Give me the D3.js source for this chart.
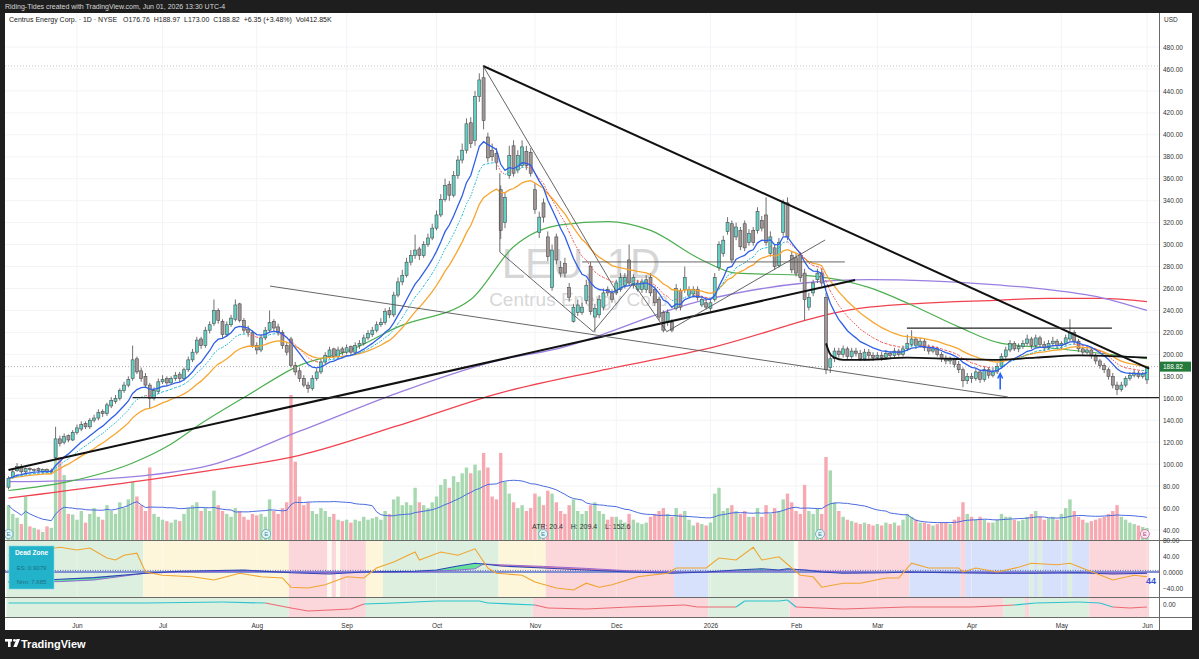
<!DOCTYPE html>
<html><head><meta charset="utf-8">
<script src="https://cdn.jsdelivr.net/npm/d3@7"></script>
<style>
html,body{margin:0;padding:0;background:#1e1e1e;}
svg{display:block;font-family:"Liberation Sans","DejaVu Sans",sans-serif;}
</style></head><body>
<svg id="c" width="1199" height="659"></svg>
<script>
// ---------------- DATA ----------------
const open=[79,88,94,98,93,96,95,96,93,95,93,106,123,120,126,122,129,132,137,134,140,142,148,146,153,157,160,167,172,178,196,185,180,172,160,166,175,178,174,178,182,178,186,195,202,214,208,222,228,240,230,218,227,232,246,231,223,220,208,204,215,222,230,225,220,208,214,190,185,178,172,169,178,184,193,198,205,198,205,202,207,202,208,210,215,218,222,227,229,240,236,254,266,272,284,290,296,290,300,306,315,327,341,355,345,363,377,386,411,395,435,452,398,386,383,350,320,363,390,368,372,385,384,350,311,338,307,261,307,279,283,261,230,238,238,249,280,234,236,243,259,256,256,259,263,286,263,259,259,259,270,259,250,238,229,229,242,258,259,254,255,259,245,247,242,250,279,292,312,319,307,313,319,302,313,313,322,327,292,297,281,311,338,290,288,290,274,243,256,268,274,252,188,196,203,200,205,198,203,201,196,202,199,197,199,197,201,199,203,200,205,209,214,208,212,206,203,205,200,196,194,195,191,186,176,180,178,184,177,186,181,184,189,198,204,210,205,207,210,214,208,215,209,206,210,212,208,210,214,220,212,205,202,204,199,194,190,186,180,172,168,172,178,181,183,180,176.76];
const high=[89,95,101,100,97,97,96,97,96,96,96,134,126,128,127,131,136,139,139,142,145,150,150,156,161,163,169,175,180,208,198,188,183,174,170,178,181,180,180,184,184,188,198,205,216,216,225,230,250,242,232,230,236,250,247,233,226,222,211,218,225,240,232,228,222,211,216,193,188,181,175,181,187,196,202,207,206,207,207,209,208,211,213,218,222,225,230,233,242,243,257,270,277,288,295,309,298,303,310,319,331,346,360,358,367,381,392,415,416,440,456,463,402,392,388,354,348,390,395,386,395,390,388,356,330,342,312,300,310,285,288,265,246,250,247,268,284,246,254,260,262,259,268,274,274,300,273,268,269,272,274,262,252,240,241,232,264,260,280,262,262,262,253,250,250,274,303,308,325,322,320,316,322,314,316,334,326,343,312,300,306,341,343,294,292,293,278,256,268,278,278,256,199,206,206,208,207,206,206,204,205,205,202,202,202,204,203,206,205,208,218,222,216,215,214,209,208,207,202,199,198,197,194,188,183,183,187,186,189,188,187,192,201,207,213,212,210,213,218,216,218,217,212,213,216,214,212,218,232,222,214,207,207,206,201,196,192,188,183,175,175,180,184,186,185,184,188.97];
const low=[77,87,93,91,91,93,93,92,91,92,91,104,116,118,120,121,127,130,132,132,138,140,143,144,151,155,158,165,170,176,182,175,170,151,158,164,173,171,172,176,175,176,184,193,200,205,206,219,226,228,215,216,225,230,229,219,216,206,200,202,213,220,221,217,205,199,188,181,175,170,165,167,176,182,191,196,196,196,199,200,199,200,205,208,213,216,220,225,227,233,234,252,263,270,281,287,286,288,298,304,313,325,339,340,343,360,374,383,388,390,430,405,375,376,368,305,315,360,362,365,370,368,362,328,306,320,285,258,282,270,270,248,229,235,236,246,236,220,233,240,253,247,254,257,260,262,260,257,256,256,253,244,231,220,226,220,240,240,256,252,252,249,243,241,239,248,276,289,309,283,304,295,294,299,299,310,312,299,289,277,279,308,304,274,271,266,231,240,253,265,262,182,183,193,197,197,195,196,198,194,194,196,194,195,194,195,196,197,198,198,203,207,205,206,203,200,201,198,193,191,191,188,183,170,173,174,176,174,175,178,179,182,187,196,202,203,202,205,208,205,206,206,203,204,207,205,205,208,212,209,202,199,200,196,191,187,183,177,169,163,166,170,176,179,178,178,173];
const close=[87,93,98,93,96,95,95,94,95,93,94,123,119,125,122,129,133,136,134,140,142,147,146,154,158,160,167,172,177,195,184,178,172,160,167,175,177,174,178,181,178,186,195,202,213,208,222,227,240,231,218,227,233,245,231,222,220,208,204,215,222,229,224,220,208,202,190,184,178,172,169,178,184,193,199,204,198,204,202,206,202,208,210,215,219,222,227,229,239,236,254,266,272,284,290,295,290,300,306,315,327,341,354,345,363,377,386,410,392,435,450,413,379,380,375,313,343,381,365,381,389,372,365,332,325,325,289,295,286,274,274,252,243,245,243,263,239,242,250,256,256,250,265,270,270,265,270,265,266,268,256,247,234,222,238,222,260,243,270,259,259,252,250,243,247,270,300,304,320,286,316,298,297,310,302,330,315,302,307,280,302,338,307,277,274,270,250,252,265,274,265,186,196,203,200,205,198,203,201,196,202,199,197,199,197,201,199,203,200,205,210,214,208,212,206,203,205,200,196,194,195,191,186,176,180,178,184,177,186,181,184,189,198,204,210,205,207,210,214,208,215,209,206,210,212,208,210,215,220,212,205,202,204,199,194,190,186,180,172,168,172,178,181,183,180,182.47,188.82];
const volume=[1200,900,770,550,1500,470,420,360,280,470,420,3350,2860,2240,900,880,700,1000,600,900,1100,800,700,1200,1000,900,1300,1100,1400,2000,1500,1200,1000,2500,900,800,700,650,600,700,650,900,1100,1200,1300,1000,1100,1000,1700,1200,1000,900,800,1100,1000,800,700,900,850,900,800,1400,1000,900,1100,1300,5000,2700,1500,1200,1300,1000,900,1100,1000,800,900,700,650,700,600,700,650,800,700,750,800,700,1000,900,1400,1500,1200,1300,1200,1800,1300,1200,1100,1300,1500,1900,2100,1800,2200,2000,2300,2500,2300,2600,2400,3000,2500,1500,1400,3000,2000,1600,1300,1100,1200,1000,1100,1600,1500,1200,1700,1600,1300,1000,900,1200,1400,1000,900,1000,1200,1300,1000,900,700,800,800,700,600,900,700,600,550,600,800,900,1000,1100,900,800,1100,900,1000,700,500,600,550,500,600,1600,1800,1000,1100,1200,1000,900,1000,800,800,1100,800,1200,900,1100,1000,1400,1600,1300,1000,900,1900,1000,900,1100,900,2860,2400,1300,1000,800,700,650,600,550,600,550,500,550,500,600,550,600,500,700,900,800,700,600,600,550,500,550,600,600,550,700,800,1300,900,800,700,800,700,600,600,700,900,800,800,700,650,700,800,900,1000,800,700,750,800,700,900,1100,1400,1000,800,700,600,650,700,750,800,900,1000,1200,800,700,600,550,500,450,413];

const priceTicks=[40,60,80,100,120,140,160,180,200,220,240,260,280,300,320,340,360,380,400,420,440,460,480];
const monthIdx=[16,36,58,79,100,123,142,164,184,203,225,246,266];
const monthLabels=["Jun","Jul","Aug","Sep","Oct","Nov","Dec","2026","Feb","Mar","Apr","May","Jun"];

// slow moving averages (bar index, price)
const greenIdx=[0,14,29,37,45,56,68,80,91,108,118,129,140,150,162,170,186,201,211,222,232,243,255,266];
const greenVal=[76,84,101,116,137,163,190,204,225,250,298,318,321,313,286,274,272,261,245,225,210,206,201,196];
const purpleIdx=[0,14,45,68,91,115,127,162,186,201,215,232,243,255,266];
const purpleVal=[84,85,97,130,165,195,204,249,265,268,267,263,259,252,240];
const redIdx=[0,45,68,91,115,138,162,201,232,243,255,266];
const redVal=[69,93,108,135,165,185,204,243,249.5,251,251,248];
const vwapIdx=[191,192,193,195,200,210,220,230,240,250,260,266];
const vwapVal=[210,200,197,195,195,197,196,195,197,199,198,197];

// Dead Zone pane
const p1Idx=[0,12,20,32,40,55,66,75,83,90,95,100,105,109,111,115,125,135,145,155,163,170,176,180,182,186,190,195,205,210,220,230,240,250,258,266];
const p1Blue=[-25,-18,-14,-3,2,5,-2,-5,0,1,2,5,15,22,20,15,10,5,0,-3,0,5,8,5,8,5,0,-3,-2,0,-2,-3,-3,-2,-5,-3];
const p1Sig=[-25,-24,-20,-3,0,2,0,-1,0,0,0,2,5,8,20,18,14,9,3,0,-1,2,3,3,5,5,2,0,-1,-1,-1,-2,-2,-2,-2,-2];
const orIdx=[0,12,16,19,23,25,27,30,32,36,43,48,54,59,64,66,70,74,79,83,86,90,95,96,101,105,109,112,114,120,123,128,132,135,138,141,147,154,156,163,166,170,174,176,180,183,185,188,190,195,199,205,208,211,215,222,223,226,231,236,239,245,248,252,254,258,263,266];
const orVal=[42,62,55,60,35,30,42,47,0,-8,-12,-20,-3,-12,-15,-38,-40,-32,-12,-15,10,25,50,30,50,42,58,10,-3,-8,-25,-40,-45,-28,-38,-32,-12,-3,10,10,35,30,62,30,38,10,-8,-12,-38,-28,-28,-15,-15,22,10,10,0,10,0,12,22,18,22,5,-3,-20,-8,-12];
const zone1Start=[0,32,66,75,76,77,78,84,88,115,126,156,164,184,185,211,223,224,239,240,241,242,248,249,253];
const zone1End=[31,65,74,75,76,77,83,87,114,125,155,163,183,184,210,222,223,238,239,240,241,247,248,252,266];
const zone1Type=["g","y","p","w","p","w","p","y","g","y","p","b","g","w","p","b","p","b","g","b","g","b","g","b","p"];
const zone2Start=[0,66,84,123,164,183,233,238,239,253];
const zone2End=[65,83,122,163,182,232,237,238,252,266];
const zone2Type=["g","p","g","p","g","p","g","p","g","p"];
const p2Idx=[0,32,50,60,66,70,80,83,90,100,110,112,123,126,135,145,158,161,170,172,180,182,184,195,210,225,235,240,250,255,258,262,266];
const p2Val=[1,1,1.5,1,-1.5,-3,-2,0.5,1,2,2,1,0,-1.5,-2,-1,0,-1,-1,2,2,2.5,-1,-2,-1,-1,0,1,1.5,1,-1,-1.5,-1];

// drawings: [index, price] pairs
const trendUp=[[0,94.7],[197.8,267.8]];
const trendDown=[[110.9,462.7],[266.5,187]];
const supportLine=[[29,160.5],[271,160.5]];
const wedgeLow=[[61.1,262.2],[233.5,161.2]];
const peakLeg=[[110.9,462.7],[142.2,256]];
const zigzag=[[114.8,365],[114.8,293.2],[136.6,220.7],[146,264.8],[153.8,220.7],[190.8,304.2]];
const rangeTop=[[134,284.2],[195.4,284.2]];
const rangeMay=[[209.9,223.9],[257.8,223.9]];
const earnIdx=[0,60.2,124.9,189.6,265.5];

// ---------------- LAYOUT ----------------
const svg=d3.select("#c");
const L=5,R=1159,AX=1192,T=13,MB=540,P1T=540,P1B=597,P2B=617,XB=630;
const x=d3.scaleLinear().domain([0,266]).range([8.5,1147]);
const y=d3.scaleLinear().domain([40,480]).range([530,47]);
const vy=d3.scaleLinear().domain([0,5000]).range([MB,395]);
const p1=d3.scaleLinear().domain([-40,40]).range([588,556]);
const p2=d3.scaleLinear().domain([-3,3]).range([611,599]);
const N=close.length;

svg.append("rect").attr("width",1199).attr("height",659).attr("fill","#1e1e1e");
svg.append("rect").attr("x",L).attr("y",T).attr("width",AX-L).attr("height",XB-T).attr("fill","#ffffff");
svg.append("text").attr("x",5).attr("y",9).attr("fill","#d6d6d6").attr("font-size",7).text("Riding-Tides created with TradingView.com, Jun 01, 2026 13:30 UTC-4");

const defs=svg.append("defs");
defs.append("clipPath").attr("id","mainClip").append("rect").attr("x",L).attr("y",T).attr("width",R-L).attr("height",MB-T);
defs.append("clipPath").attr("id","p1Clip").append("rect").attr("x",L).attr("y",P1T).attr("width",R-L).attr("height",P1B-P1T);
defs.append("clipPath").attr("id","p2Clip").append("rect").attr("x",L).attr("y",P1B).attr("width",R-L).attr("height",P2B-P1B);

const main=svg.append("g").attr("clip-path","url(#mainClip)");
// grid
main.selectAll(".hg").data(priceTicks).join("line").attr("x1",L).attr("x2",R).attr("y1",d=>y(d)).attr("y2",d=>y(d)).attr("stroke","#f3f4f7").attr("stroke-width",1);
main.selectAll(".vg").data(monthIdx).join("line").attr("x1",d=>x(d)).attr("x2",d=>x(d)).attr("y1",T).attr("y2",MB).attr("stroke","#f3f4f7").attr("stroke-width",1);

// watermark
main.append("text").attr("x",581).attr("y",278).attr("text-anchor","middle").attr("font-size",42).attr("fill","#c9c9c9").attr("fill-opacity",0.75).text("LEU, 1D");
main.append("text").attr("x",581).attr("y",306).attr("text-anchor","middle").attr("font-size",19).attr("fill","#c9c9c9").attr("fill-opacity",0.75).text("Centrus Energy Corp.");

// volume
main.selectAll(".vb").data(d3.range(N)).join("rect")
 .attr("x",i=>x(i)-1.7).attr("width",3.4)
 .attr("y",i=>vy(volume[i])).attr("height",i=>MB-vy(volume[i]))
 .attr("fill",i=>close[i]>=open[i]?"#a8d8b0":"#f6a9b1");
const vma=d3.range(N).map(i=>{const s=Math.max(0,i-19);return d3.mean(volume.slice(s,i+1));});
main.append("path").attr("d",d3.line().x((d,i)=>x(i)).y(d=>vy(d))(vma)).attr("fill","none").attr("stroke","#4a6be0").attr("stroke-width",1);

// dotted reference lines
main.append("line").attr("x1",L).attr("x2",R).attr("y1",y(462.7)).attr("y2",y(462.7)).attr("stroke","#b8b8b8").attr("stroke-dasharray","1,2").attr("stroke-width",0.8);
main.append("line").attr("x1",L).attr("x2",R).attr("y1",y(188.82)).attr("y2",y(188.82)).attr("stroke","#999").attr("stroke-dasharray","1,2").attr("stroke-width",0.8);

const sparse=(idx,val)=>idx.map((d,k)=>[d,val[k]]);
const lineP=d3.line().x(d=>x(d[0])).y(d=>y(d[1])).curve(d3.curveMonotoneX);
main.append("path").attr("d",lineP(sparse(redIdx,redVal))).attr("fill","none").attr("stroke","#f0424f").attr("stroke-width",1.3);
main.append("path").attr("d",lineP(sparse(purpleIdx,purpleVal))).attr("fill","none").attr("stroke","#9b7fe0").attr("stroke-width",1.3);
main.append("path").attr("d",lineP(sparse(greenIdx,greenVal))).attr("fill","none").attr("stroke","#4caf50").attr("stroke-width",1.2);

// candles
const cg=main.append("g");
cg.selectAll(".wk").data(d3.range(N)).join("line")
 .attr("x1",i=>x(i)).attr("x2",i=>x(i)).attr("y1",i=>y(high[i])).attr("y2",i=>y(low[i]))
 .attr("stroke","#4d4d4d").attr("stroke-width",0.8);
cg.selectAll(".bd").data(d3.range(N)).join("rect")
 .attr("x",i=>x(i)-1.5).attr("width",3)
 .attr("y",i=>y(Math.max(open[i],close[i])))
 .attr("height",i=>Math.max(0.8,Math.abs(y(open[i])-y(close[i]))))
 .attr("fill",i=>close[i]>=open[i]?"#62d0c4":"#a39696")
 .attr("stroke","#4d4d4d").attr("stroke-width",0.6);

// computed short averages
function ema(arr,n){const k=2/(n+1);const out=[];arr.forEach((v,i)=>out.push(i===0?v:v*k+out[i-1]*(1-k)));return out;}
const ema10=ema(close,10), ema15=ema(close,15), ema21=ema(close,24);
const lineI=d3.line().x((d,i)=>x(i)).y(d=>y(d));
main.append("path").attr("d",lineI(ema21)).attr("fill","none").attr("stroke","#f7a530").attr("stroke-width",1.3);
for(let i=1;i<N;i++){
  main.append("line").attr("x1",x(i-1)).attr("x2",x(i)).attr("y1",y(ema15[i-1])).attr("y2",y(ema15[i]))
   .attr("stroke",ema15[i]>=ema15[i-1]?"#22b8cf":"#ef5350").attr("stroke-width",1).attr("stroke-dasharray","1.5,1.5");
}
main.append("path").attr("d",lineI(ema10)).attr("fill","none").attr("stroke","#2f5fe8").attr("stroke-width",1.3);
main.append("path").attr("d",lineP(sparse(vwapIdx,vwapVal))).attr("fill","none").attr("stroke","#111").attr("stroke-width",1.8);

// drawings
const lineD=d3.line().x(d=>x(d[0])).y(d=>y(d[1]));
main.append("path").attr("d",lineD(trendUp)).attr("stroke","#111").attr("stroke-width",2).attr("fill","none");
main.append("path").attr("d",lineD(trendDown)).attr("stroke","#111").attr("stroke-width",2).attr("fill","none");
main.append("path").attr("d",lineD(supportLine)).attr("stroke","#222").attr("stroke-width",1.2).attr("fill","none");
[wedgeLow,peakLeg,zigzag,rangeTop].forEach(p=>main.append("path").attr("d",lineD(p)).attr("stroke","#555").attr("stroke-width",0.9).attr("fill","none"));
main.append("path").attr("d",lineD(rangeMay)).attr("stroke","#222").attr("stroke-width",1.1).attr("fill","none");
// arrow
const ax0=x(231.7);
main.append("path").attr("d",`M${ax0},${y(168)} L${ax0},${y(181)} M${ax0-2.5},${y(178)} L${ax0},${y(182.5)} L${ax0+2.5},${y(178)}`).attr("stroke","#2962ff").attr("stroke-width",1.6).attr("fill","none");
// earnings icons
earnIdx.forEach((d,k)=>{
  const g=main.append("g").attr("transform",`translate(${x(d)},534)`);
  const last=k===earnIdx.length-1;
  g.append("circle").attr("r",4.5).attr("fill",last?"#fde7ef":"#e4f4f6").attr("stroke",last?"#c86a9a":"#5aa8b8").attr("stroke-width",0.8);
  g.append("text").attr("y",2.3).attr("text-anchor","middle").attr("font-size",6).attr("fill",last?"#b05080":"#3a8898").text("E");
});
main.append("text").attr("x",532).attr("y",529).attr("font-size",7).attr("fill","#333").attr("xml:space","preserve").text("ATR: 20.4    H: 209.4    L: 152.6");

// header
svg.append("text").attr("x",9).attr("y",22).attr("font-size",7).attr("fill","#222").attr("xml:space","preserve")
 .text("Centrus Energy Corp. · 1D · NYSE   O176.76  H188.97  L173.00  C188.82  +6.35 (+3.48%)  Vol412.85K");

// ---------------- PANE 1 ----------------
const pane1=svg.append("g").attr("clip-path","url(#p1Clip)");
const zc={g:"#ddefdf",y:"#fdf6da",p:"#fbd6da",b:"#d7e1fb",w:"#fefcf0"};
zone1Start.forEach((s,k)=>pane1.append("rect").attr("x",x(s)-2.14).attr("width",x(zone1End[k])-x(s)+4.28).attr("y",P1T).attr("height",P1B-P1T).attr("fill",zc[zone1Type[k]]));
pane1.selectAll(".vg").data(monthIdx).join("line").attr("x1",d=>x(d)).attr("x2",d=>x(d)).attr("y1",P1T).attr("y2",P1B).attr("stroke","#ffffff").attr("stroke-opacity",0.35);
for(let k=1;k<p1Idx.length;k++){
  const a=[p1Idx[k-1],p1Blue[k-1],p1Sig[k-1]], b=[p1Idx[k],p1Blue[k],p1Sig[k]];
  const diff=(a[1]-a[2])+(b[1]-b[2]);
  if(Math.abs(diff)<0.01) continue;
  pane1.append("path").attr("d",`M${x(a[0])},${p1(a[1])} L${x(b[0])},${p1(b[1])} L${x(b[0])},${p1(b[2])} L${x(a[0])},${p1(a[2])} Z`)
   .attr("fill",diff>0?"#3ddc84":"#ef6a7a").attr("fill-opacity",0.75);
}
pane1.append("line").attr("x1",L).attr("x2",R).attr("y1",p1(0)).attr("y2",p1(0)).attr("stroke","#7f8fd0").attr("stroke-width",2.2);
pane1.append("line").attr("x1",L).attr("x2",R).attr("y1",p1(4)).attr("y2",p1(4)).attr("stroke","#3f51b5").attr("stroke-width",0.8).attr("stroke-dasharray","1,1.5");
const l1=d3.line().x(d=>x(d[0])).y(d=>p1(d[1]));
pane1.append("path").attr("d",l1(sparse(p1Idx,p1Sig))).attr("fill","none").attr("stroke","#8e5fd6").attr("stroke-width",0.9);
pane1.append("path").attr("d",l1(sparse(p1Idx,p1Blue))).attr("fill","none").attr("stroke","#2d46b9").attr("stroke-width",1.1);
pane1.append("path").attr("d",l1(sparse(orIdx,orVal))).attr("fill","none").attr("stroke","#f0a531").attr("stroke-width",1.1);
// label box
const lb=svg.append("g");
lb.append("rect").attr("x",9).attr("y",546).attr("width",45).attr("height",43).attr("fill","#22b2c9").attr("stroke","#7fdbe8").attr("stroke-width",0.6);
lb.append("text").attr("x",31.5).attr("y",555).attr("text-anchor","middle").attr("font-size",6.5).attr("font-weight","bold").attr("fill","#ffffff").text("Dead Zone");
lb.append("text").attr("x",31.5).attr("y",570).attr("text-anchor","middle").attr("font-size",6).attr("fill","#1f6f86").text("ES: 0.9079");
lb.append("text").attr("x",31.5).attr("y",584).attr("text-anchor","middle").attr("font-size",6).attr("fill","#1f6f86").text("Nrm: 7.685");
svg.append("text").attr("x",1146).attr("y",584).attr("font-size",9).attr("font-weight","bold").attr("fill","#3550d8").text("44");

// ---------------- PANE 2 ----------------
const pane2=svg.append("g").attr("clip-path","url(#p2Clip)");
zone2Start.forEach((s,k)=>pane2.append("rect").attr("x",x(s)-2.14).attr("width",x(zone2End[k])-x(s)+4.28).attr("y",P1B).attr("height",P2B-P1B).attr("fill",zc[zone2Type[k]]));
for(let k=1;k<p2Idx.length;k++){
  const m=(p2Val[k-1]+p2Val[k])/2;
  pane2.append("line").attr("x1",x(p2Idx[k-1])).attr("x2",x(p2Idx[k])).attr("y1",p2(p2Val[k-1])).attr("y2",p2(p2Val[k]))
   .attr("stroke",m>=0?"#2cc3cf":"#ec6a72").attr("stroke-width",1.2);
}

// ---------------- AXES & FRAME ----------------
const sep=svg.append("g");
[P1T,P1B,P2B].forEach(v=>sep.append("line").attr("x1",L).attr("x2",AX).attr("y1",v+0.5).attr("y2",v+0.5).attr("stroke","#6a6a6a").attr("stroke-width",1));
sep.append("line").attr("x1",R+0.5).attr("x2",R+0.5).attr("y1",T).attr("y2",XB).attr("stroke","#6a6a6a");

const yAxis=d3.axisRight(y).tickValues(priceTicks).tickFormat(d3.format(".2f")).tickSize(0).tickPadding(4);
const ga=svg.append("g").attr("transform",`translate(${R},0)`).call(yAxis);
ga.select(".domain").remove();
ga.selectAll("text").attr("font-size",6.5).attr("fill","#333").attr("font-family","Liberation Sans, DejaVu Sans, sans-serif");
svg.append("text").attr("x",1164).attr("y",22).attr("font-size",6.5).attr("fill","#333").text("USD");

const p1Axis=d3.axisRight(p1).tickValues([80,40,0,-40]).tickFormat(d=>d===0?"0.0000":d3.format(".2f")(d)).tickSize(0).tickPadding(4);
const gp1=svg.append("g").attr("transform",`translate(${R},0)`).call(p1Axis);
gp1.select(".domain").remove();
gp1.selectAll("text").attr("font-size",6.5).attr("fill","#333").attr("font-family","Liberation Sans, DejaVu Sans, sans-serif");
const p2Axis=d3.axisRight(p2).tickValues([0.2]).tickFormat(()=> "0.00").tickSize(0).tickPadding(4);
const gp2=svg.append("g").attr("transform",`translate(${R},0)`).call(p2Axis);
gp2.select(".domain").remove();
gp2.selectAll("text").attr("font-size",6.5).attr("fill","#333").attr("font-family","Liberation Sans, DejaVu Sans, sans-serif");

// last price label
svg.append("rect").attr("x",R+1).attr("y",y(188.82)-5).attr("width",31).attr("height",10).attr("fill","#237a3a");
svg.append("text").attr("x",R+4).attr("y",y(188.82)+2.5).attr("font-size",6.5).attr("fill","#fff").text("188.82");

const xAxis=d3.axisBottom(x).tickValues(monthIdx).tickFormat((d,i)=>monthLabels[i]).tickSize(0).tickPadding(6);
const gx=svg.append("g").attr("transform",`translate(0,${P2B})`).call(xAxis);
gx.select(".domain").remove();
gx.selectAll("text").attr("font-size",6.5).attr("fill","#333").attr("font-family","Liberation Sans, DejaVu Sans, sans-serif");

// bottom logo
const logo=svg.append("g").attr("transform","translate(5,638)");
logo.append("rect").attr("x",0).attr("y",1).attr("width",7).attr("height",2.6).attr("fill","#fff");
logo.append("rect").attr("x",3).attr("y",1).attr("width",2.6).attr("height",8).attr("fill","#fff");
logo.append("circle").attr("cx",9.5).attr("cy",2.3).attr("r",1.4).attr("fill","#fff");
logo.append("path").attr("d","M11.5,1 L15,1 L11.8,9 L8.3,9 Z").attr("fill","#fff");
svg.append("text").attr("x",21).attr("y",647.5).attr("font-size",11).attr("font-weight","600").attr("fill","#fff").text("TradingView");
</script>
</body></html>
